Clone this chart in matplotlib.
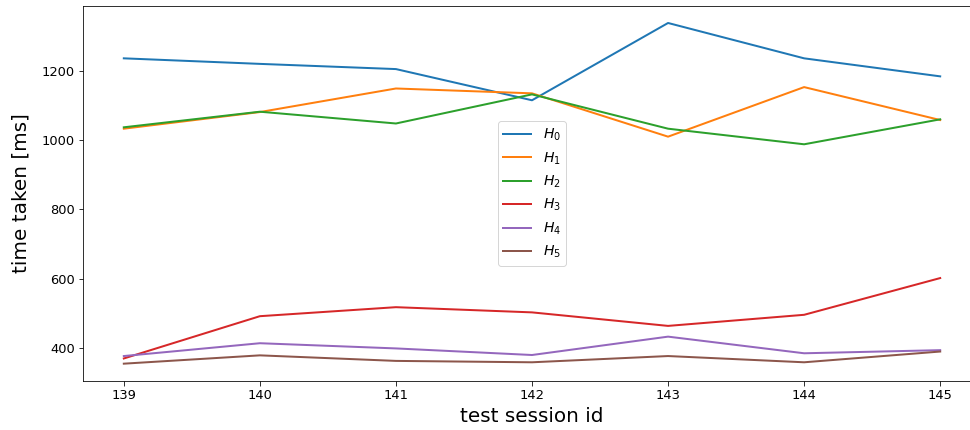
import numpy as np
import matplotlib.pyplot as plt

# test sessions and timings
sessions = [139, 140, 141, 142, 143, 144, 145]
h0 = [1236, 1220, 1205, 1115, 1338, 1236, 1184]
h1 = [1033, 1081, 1149, 1135, 1010, 1153, 1058]
h2 = [1037, 1082, 1048, 1132, 1033, 988, 1060]
h3 = [370, 492, 518, 503, 464, 496, 602]
h4 = [377, 414, 399, 380, 433, 385, 394]
h5 = [355, 379, 363, 359, 377, 359, 390]

series = [h0, h1, h2, h3, h4, h5]

fig = plt.figure(figsize=(970 / 72, 430 / 72), dpi=72)
# axes run slightly past the right edge, like the cropped original
ax = fig.add_axes([83 / 970, 49 / 430, (981 - 83) / 970, 375 / 430])

for i, vals in enumerate(series):
    ax.plot(sessions, vals, linewidth=2, label=r"$H_{%d}$" % i)

ax.set_ylim(305, 1387)
ax.set_xlabel("test session id", fontsize=20, labelpad=5)
ax.set_ylabel("time taken [ms]", fontsize=20, labelpad=11)
ax.tick_params(labelsize=13, length=4.5)
ax.legend(loc="center", fontsize=14)

fig.savefig("out.png", dpi=72)
